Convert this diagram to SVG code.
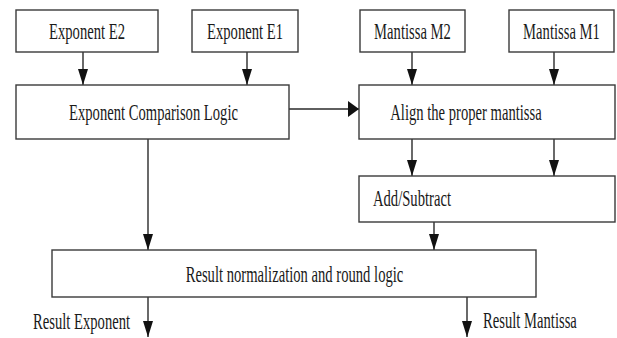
<svg xmlns="http://www.w3.org/2000/svg" width="617" height="338" viewBox="0 0 617 338">
<style>
.box{fill:#fff;stroke:#3a3a3a;stroke-width:1.4}
.lbl{font-family:"Liberation Serif","Times New Roman",serif;font-size:22.5px;fill:#1a1a1a}
.c{text-anchor:middle}
.edge{fill:none;stroke:#2a2a2a;stroke-width:1.4}
</style>
<defs>
<marker id="ah" markerUnits="userSpaceOnUse" markerWidth="16" markerHeight="10" refX="16" refY="5" orient="auto" viewBox="0 0 16 10">
<path d="M0,0 L16,5 L0,10 Z" fill="#111"/>
</marker>
<marker id="ahh" markerUnits="userSpaceOnUse" markerWidth="11" markerHeight="16" refX="11" refY="8" orient="auto" viewBox="0 0 11 16">
<path d="M0,0 L11,8 L0,16 Z" fill="#111"/>
</marker>
</defs>
<rect width="617" height="338" fill="#fff"/>
<g id="connectors">
<line class="edge" x1="83" y1="52" x2="83" y2="85" marker-end="url(#ah)"/>
<line class="edge" x1="247" y1="52" x2="247" y2="85" marker-end="url(#ah)"/>
<line class="edge" x1="412" y1="52" x2="412" y2="85" marker-end="url(#ah)"/>
<line class="edge" x1="554" y1="52" x2="554" y2="85" marker-end="url(#ah)"/>
<line class="edge" x1="289" y1="109" x2="359" y2="109" marker-end="url(#ahh)"/>
<line class="edge" x1="412" y1="139" x2="412" y2="176" marker-end="url(#ah)"/>
<line class="edge" x1="554" y1="139" x2="554" y2="176" marker-end="url(#ah)"/>
<line class="edge" x1="148" y1="139" x2="148" y2="250" marker-end="url(#ah)"/>
<line class="edge" x1="434" y1="222" x2="434" y2="250" marker-end="url(#ah)"/>
<line class="edge" x1="148" y1="297" x2="148" y2="337" marker-end="url(#ah)"/>
<line class="edge" x1="467" y1="297" x2="467" y2="337" marker-end="url(#ah)"/>
</g>
<g id="e2"><rect class="box" x="16" y="10" width="142" height="42"/>
<text class="lbl c" transform="translate(87,39) scale(0.65,1)">Exponent E2</text></g>
<g id="e1"><rect class="box" x="192" y="10" width="106" height="42"/>
<text class="lbl c" transform="translate(245,39) scale(0.65,1)">Exponent E1</text></g>
<g id="m2"><rect class="box" x="360" y="10" width="105" height="42"/>
<text class="lbl c" transform="translate(412.5,39) scale(0.65,1)">Mantissa M2</text></g>
<g id="m1"><rect class="box" x="509" y="10" width="105" height="42"/>
<text class="lbl c" transform="translate(561.5,39) scale(0.65,1)">Mantissa M1</text></g>
<g id="cmp"><rect class="box" x="16" y="85" width="273" height="54"/>
<text class="lbl c" transform="translate(153.5,120) scale(0.65,1)">Exponent Comparison Logic</text></g>
<g id="align"><rect class="box" x="359" y="85" width="256" height="54"/>
<text class="lbl c" transform="translate(466,120) scale(0.65,1)">Align the proper mantissa</text></g>
<g id="add"><rect class="box" x="359" y="176" width="256" height="46"/>
<text class="lbl" transform="translate(373,206) scale(0.65,1)">Add/Subtract</text></g>
<g id="norm"><rect class="box" x="52" y="250" width="484" height="47"/>
<text class="lbl c" transform="translate(294.5,282) scale(0.65,1)">Result normalization and round logic</text></g>
<g id="outE"><text class="lbl" transform="translate(33,329) scale(0.65,1)">Result Exponent</text></g>
<g id="outM"><text class="lbl" transform="translate(483,328) scale(0.65,1)">Result Mantissa</text></g>
</svg>
